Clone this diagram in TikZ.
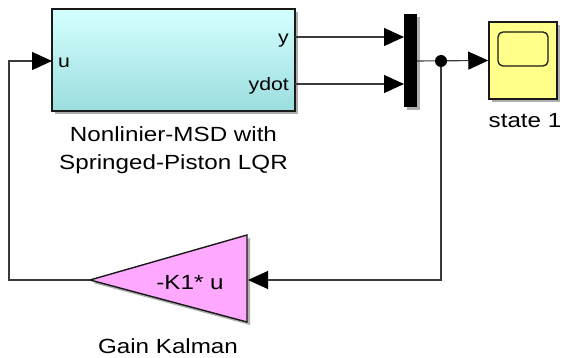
\documentclass[tikz,border=0pt]{standalone}
\usepackage{fontspec}
\setmainfont[FakeStretch=1.18]{Liberation Sans}
\usetikzlibrary{arrows.meta,shadows}
\definecolor{wirec}{HTML}{3A3A3A}
\definecolor{plantTop}{HTML}{D4FFFF}
\definecolor{plantBot}{HTML}{9CDDDE}
\definecolor{scopec}{HTML}{FFFF8A}
\definecolor{gainc}{HTML}{FFA8FF}
\tikzset{
  blockshadow/.style={drop shadow={shadow xshift=3pt,shadow yshift=-3pt,fill=black!70,opacity=0.45}},
  wire/.style={draw=wirec,line width=1.1pt},
  sig/.style={wire,-{Triangle[length=20pt,width=18pt,color=black,fill=black]}},
  lbl/.style={font=\fontsize{20.5}{28}\selectfont,text=black,inner sep=0pt,align=center},
  portlbl/.style={font=\fontsize{18}{22}\selectfont,text=black,inner sep=0pt},
}
\begin{document}
\begin{tikzpicture}[x=1pt,y=-1pt]
\useasboundingbox (0,0) rectangle (565,358);
% plant block
\node[draw=black!90,line width=1.5pt,top color=plantTop,bottom color=plantBot,
  minimum width=243pt,minimum height=102pt,inner sep=0pt,blockshadow] (plant) at (173.5,60) {};
\coordinate (pu) at (52,61);
\coordinate (py) at (295,37);
\coordinate (pyd) at (295,84);
\node[portlbl,anchor=base west] (lu) at (58,68) {u};
\node[portlbl,anchor=base east] (ly) at (289,44) {y};
\node[portlbl,anchor=base east] (lyd) at (289,91) {ydot};
\node[lbl,anchor=base] (plantlbl1) at (173.5,142) {Nonlinier-MSD with};
\node[lbl,anchor=base] (plantlbl2) at (173.5,170) {Springed-Piston LQR};
% mux
\node[fill=black,minimum width=13pt,minimum height=93pt,inner sep=0pt,blockshadow] (mux) at (410.5,60.5) {};
\coordinate (m1) at (404,37);
\coordinate (m2) at (404,84);
\coordinate (mo) at (417,61);
% scope
\node[draw=black!90,line width=1.5pt,fill=scopec,minimum width=68pt,minimum height=77pt,inner sep=0pt,blockshadow] (scope) at (523,60.5) {};
\node[draw=black!90,line width=1.3pt,fill=scopec,rounded corners=5pt,minimum width=50pt,minimum height=34pt,inner sep=0pt] (screen) at (523,49) {};
\node[lbl,anchor=base] (scopelbl) at (525,128) {state 1};
% junction
\coordinate (jn) at (441,61);
% gain
\coordinate (gtip) at (90,280);
\coordinate (gin) at (248,280);
\filldraw[draw=black!90,line width=1.4pt,fill=gainc,line join=miter,blockshadow]
  (gtip) -- (247,235) -- (247,322) -- cycle;
\node[lbl,anchor=base] (gainval) at (190,289) {-K1* u};
\node[lbl,anchor=base] (gainlbl) at (168,353) {Gain Kalman};
% corners
\coordinate (cr) at (441,280);
\coordinate (cl) at (9,280);
\coordinate (ct) at (9,61);
% wires
\draw[sig] (py) -- (m1);
\draw[sig] (pyd) -- (m2);
\draw[sig] (mo) -- (scope.west);
\draw[sig] (jn) -- (cr) -- (gin);
\draw[sig] (gtip) -- (cl) -- (ct) -- (pu);
\fill[black] (jn) circle [radius=6pt];
\end{tikzpicture}
\end{document}
